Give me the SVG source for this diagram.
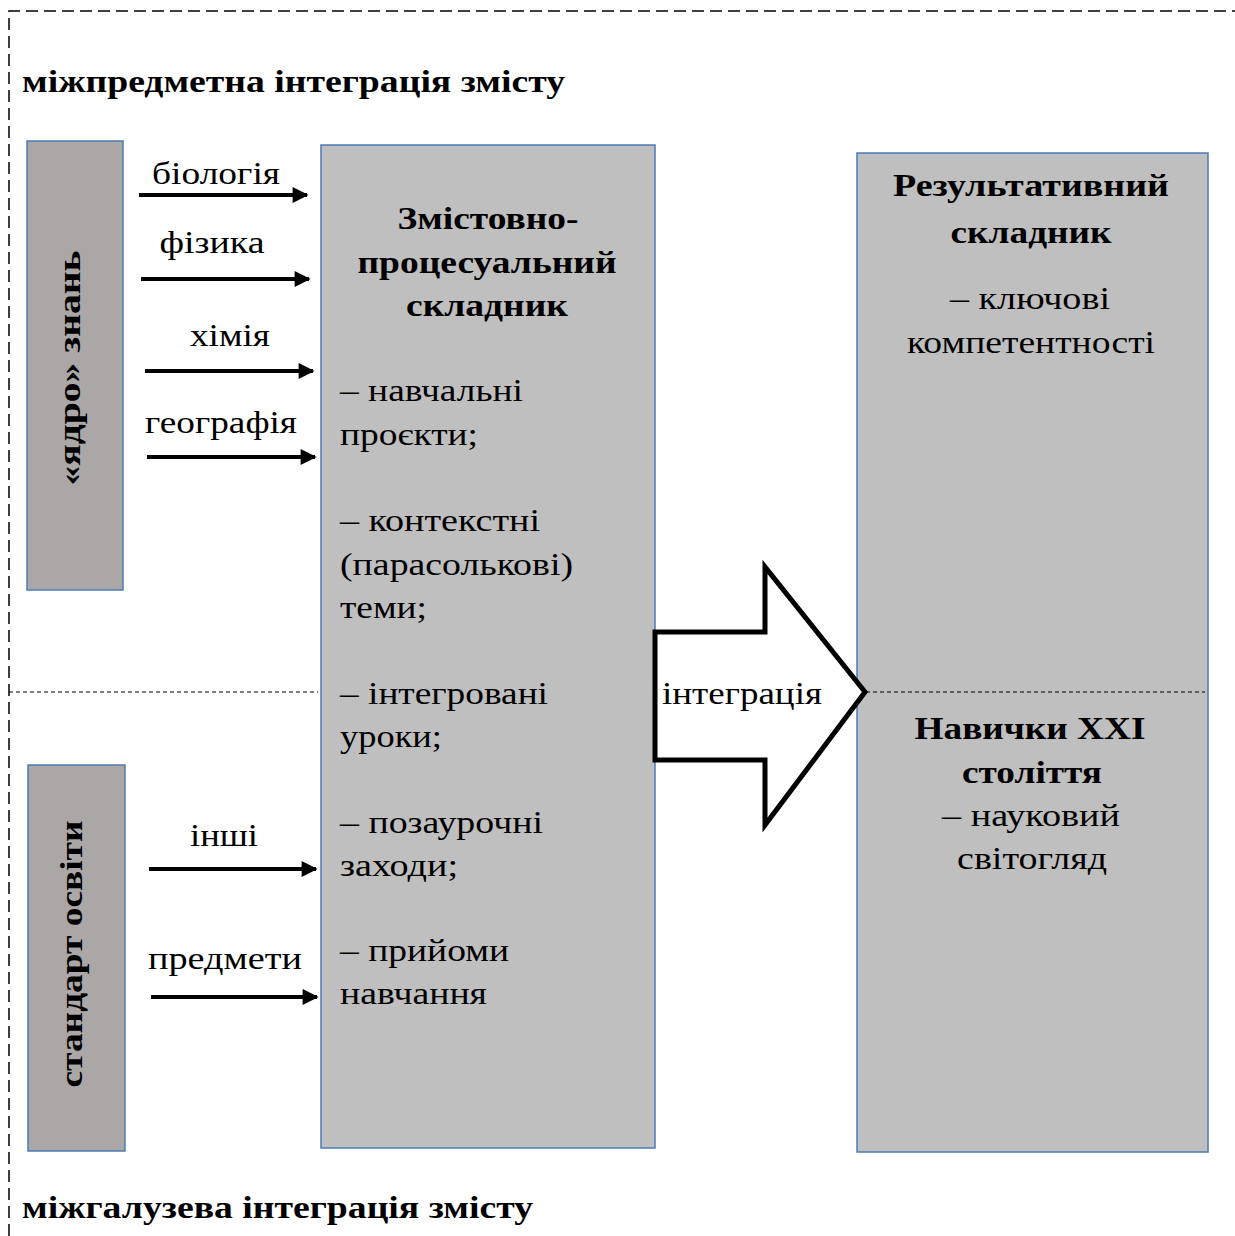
<svg xmlns="http://www.w3.org/2000/svg" width="1235" height="1236" viewBox="0 0 1235 1236">
<defs>
<style>
text{font-family:"Liberation Serif","Times New Roman",serif;fill:#000;}
.t{font-size:32px;}
.b{font-size:32px;font-weight:bold;}
.c{text-anchor:middle;}
.box1{fill:#aba7a7;stroke:#4a7db5;stroke-width:1.5;}
.box2{fill:#bfbfbf;stroke:#4a7db5;stroke-width:1.5;}
.dash{stroke:#000;stroke-width:1.5;stroke-dasharray:12 6;fill:none;}
.fdash{stroke:#000;stroke-width:1;stroke-dasharray:4 3;fill:none;}
.ar{stroke:#000;stroke-width:4;marker-end:url(#ah);}
</style>
<marker id="ah" viewBox="0 0 10 10" refX="9" refY="5" markerWidth="4.2" markerHeight="4" orient="auto" markerUnits="strokeWidth">
<path d="M0,0 L10,5 L0,10 z" fill="#000"/>
</marker>
</defs>
<g id="frame">
<path class="dash" d="M9,1236 V11 H1235"/>
<path class="fdash" d="M9,692 H318"/>
<text class="b" x="22" y="92" textLength="543" lengthAdjust="spacingAndGlyphs">міжпредметна інтеграція змісту</text>
<text class="b" x="22" y="1218" textLength="511" lengthAdjust="spacingAndGlyphs">міжгалузева інтеграція змісту</text>
</g>
<g id="core">
<rect class="box1" x="27" y="141" width="96" height="449"/>
<text class="b c" transform="translate(80,368) rotate(-90)" textLength="235" lengthAdjust="spacingAndGlyphs">«ядро»  знань</text>
</g>
<g id="standard">
<rect class="box1" x="28" y="765" width="97" height="386"/>
<text class="b c" transform="translate(82,954) rotate(-90)" textLength="267" lengthAdjust="spacingAndGlyphs">стандарт освіти</text>
</g>
<g id="content">
<rect class="box2" x="321" y="145" width="334" height="1003"/>
<text class="b c" x="488" y="229" textLength="181" lengthAdjust="spacingAndGlyphs">Змістовно-</text>
<text class="b c" x="487" y="273" textLength="259" lengthAdjust="spacingAndGlyphs">процесуальний</text>
<text class="b c" x="487" y="316" textLength="162" lengthAdjust="spacingAndGlyphs">складник</text>
<text class="t" x="340" y="401" textLength="183" lengthAdjust="spacingAndGlyphs">– навчальні</text>
<text class="t" x="340" y="445" textLength="138" lengthAdjust="spacingAndGlyphs">проєкти;</text>
<text class="t" x="340" y="531" textLength="200" lengthAdjust="spacingAndGlyphs">– контекстні</text>
<text class="t" x="340" y="575" textLength="233" lengthAdjust="spacingAndGlyphs">(парасолькові)</text>
<text class="t" x="340" y="618" textLength="87" lengthAdjust="spacingAndGlyphs">теми;</text>
<text class="t" x="340" y="704" textLength="208" lengthAdjust="spacingAndGlyphs">– інтегровані</text>
<text class="t" x="340" y="747" textLength="102" lengthAdjust="spacingAndGlyphs">уроки;</text>
<text class="t" x="340" y="833" textLength="203" lengthAdjust="spacingAndGlyphs">– позаурочні</text>
<text class="t" x="340" y="876" textLength="118" lengthAdjust="spacingAndGlyphs">заходи;</text>
<text class="t" x="340" y="961" textLength="169" lengthAdjust="spacingAndGlyphs">– прийоми</text>
<text class="t" x="340" y="1004" textLength="147" lengthAdjust="spacingAndGlyphs">навчання</text>
</g>
<g id="result">
<rect class="box2" x="857" y="153" width="351" height="999"/>
<path class="fdash" d="M866,692 H1205"/>
<text class="b c" x="1031" y="196" textLength="276" lengthAdjust="spacingAndGlyphs">Результативний</text>
<text class="b c" x="1031" y="243" textLength="161" lengthAdjust="spacingAndGlyphs">складник</text>
<text class="t c" x="1030" y="309" textLength="160" lengthAdjust="spacingAndGlyphs">– ключові</text>
<text class="t c" x="1031" y="353" textLength="248" lengthAdjust="spacingAndGlyphs">компетентності</text>
<text class="b c" x="1030" y="739" textLength="231" lengthAdjust="spacingAndGlyphs">Навички XXI</text>
<text class="b c" x="1032" y="783" textLength="140" lengthAdjust="spacingAndGlyphs">століття</text>
<text class="t c" x="1031" y="826" textLength="178" lengthAdjust="spacingAndGlyphs">– науковий</text>
<text class="t c" x="1032" y="869" textLength="150" lengthAdjust="spacingAndGlyphs">світогляд</text>
</g>
<g id="connectors">
<line class="ar" x1="139" y1="195" x2="307" y2="195"/>
<line class="ar" x1="141" y1="279" x2="309" y2="279"/>
<line class="ar" x1="145" y1="371" x2="313" y2="371"/>
<line class="ar" x1="147" y1="457" x2="315" y2="457"/>
<line class="ar" x1="149" y1="869" x2="316" y2="869"/>
<line class="ar" x1="151" y1="997" x2="317" y2="997"/>
<text class="t c" x="216" y="184" textLength="128" lengthAdjust="spacingAndGlyphs">біологія</text>
<text class="t c" x="212" y="253" textLength="105" lengthAdjust="spacingAndGlyphs">фізика</text>
<text class="t c" x="230" y="346" textLength="80" lengthAdjust="spacingAndGlyphs">хімія</text>
<text class="t c" x="221" y="433" textLength="152" lengthAdjust="spacingAndGlyphs">географія</text>
<text class="t c" x="224" y="846" textLength="68" lengthAdjust="spacingAndGlyphs">інші</text>
<text class="t c" x="225" y="969" textLength="154" lengthAdjust="spacingAndGlyphs">предмети</text>
<polygon points="655,632 765,632 765,567 865,692 765,825 765,760 655,760" fill="#fff" stroke="#000" stroke-width="5" stroke-linejoin="miter"/>
<text class="t c" x="742" y="704" textLength="160" lengthAdjust="spacingAndGlyphs">інтеграція</text>
</g>
</svg>
